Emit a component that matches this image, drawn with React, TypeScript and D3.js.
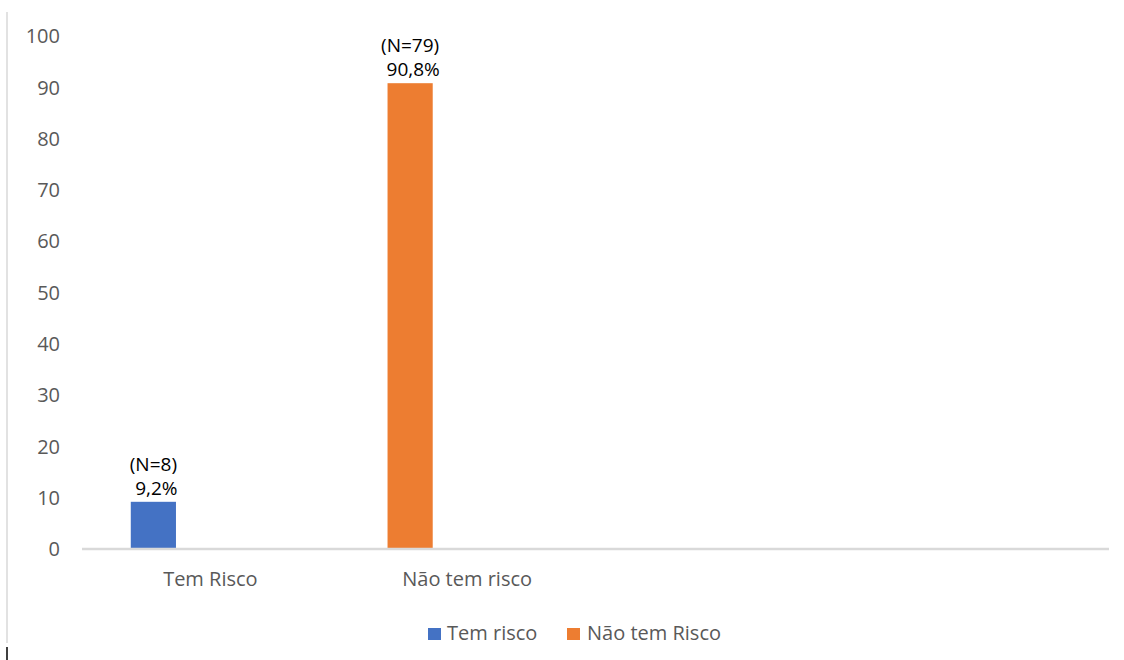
import React from "react";
import * as d3 from "d3";

const categories = ["Tem Risco", "Não tem risco"];
const seriesNames = ["Tem risco", "Não tem Risco"];
const values = [9.2, 90.8];
const countLabels = ["(N=8)", "(N=79)"];
const pctLabels = ["9,2%", "90,8%"];
const colors = ["#4472C4", "#ED7D31"];
const yTicks = [0, 10, 20, 30, 40, 50, 60, 70, 80, 90, 100];

const W = 1124;
const H = 660;
const FONT = "'Open Sans', sans-serif";

export default function App() {
  const plotLeft = 82;
  const plotRight = 1109;
  const slot = (plotRight - plotLeft) / 4;
  const x = d3
    .scaleBand<string>()
    .domain(categories)
    .range([plotLeft, plotLeft + slot * categories.length]);
  const y = d3.scaleLinear().domain([0, 100]).range([549, 36]);
  const bw = x.bandwidth();
  const barOffset = bw * 0.19;
  const barWidth = bw * 0.176;

  // legend layout
  const legendY = 633;
  const legendItems = [
    { sq: 428, tx: 447 },
    { sq: 567, tx: 587 },
  ];

  return (
    <svg
      width={W}
      height={H}
      style={{ position: "absolute", left: 0, top: 0, background: "#fff" }}
      fontFamily={FONT}
    >
      <rect x={0} y={0} width={W} height={H} fill="#fff" />
      {/* frame edge */}
      <line x1={7} x2={7} y1={12} y2={643} stroke="#d9d9d9" strokeWidth={1.5} />
      <line x1={7} x2={7} y1={647} y2={660} stroke="#000" strokeWidth={1.5} />

      {/* y tick labels */}
      {yTicks.map((t) => (
        <text
          key={t}
          x={60}
          y={y(t)}
          dy="0.36em"
          textAnchor="end"
          fontSize={20}
          fill="#595959"
        >
          {t}
        </text>
      ))}

      {/* bars */}
      {categories.map((c, i) => {
        const bx = (x(c) as number) + barOffset;
        const by = y(values[i]);
        const cx = bx + barWidth / 2;
        return (
          <g key={c}>
            <rect x={bx} y={by} width={barWidth} height={y(0) - by} fill={colors[i]} />
            <text x={cx} y={by - 31} textAnchor="middle" fontSize={19} fill="#000">
              {countLabels[i]}
            </text>
            <text x={cx + 3} y={by - 7} textAnchor="middle" fontSize={19} fill="#000">
              {pctLabels[i]}
            </text>
          </g>
        );
      })}

      {/* baseline */}
      <line x1={plotLeft} x2={plotRight} y1={549} y2={549} stroke="#d9d9d9" strokeWidth={2.5} />

      {/* category labels */}
      {categories.map((c) => (
        <text
          key={c}
          x={(x(c) as number) + bw / 2}
          y={586}
          textAnchor="middle"
          fontSize={20}
          fill="#595959"
        >
          {c}
        </text>
      ))}

      {/* legend */}
      {seriesNames.map((s, i) => (
        <g key={s}>
          <rect x={legendItems[i].sq} y={legendY - 5} width={13} height={12} fill={colors[i]} />
          <text x={legendItems[i].tx} y={legendY} dy="0.36em" fontSize={20} fill="#595959">
            {s}
          </text>
        </g>
      ))}
    </svg>
  );
}
